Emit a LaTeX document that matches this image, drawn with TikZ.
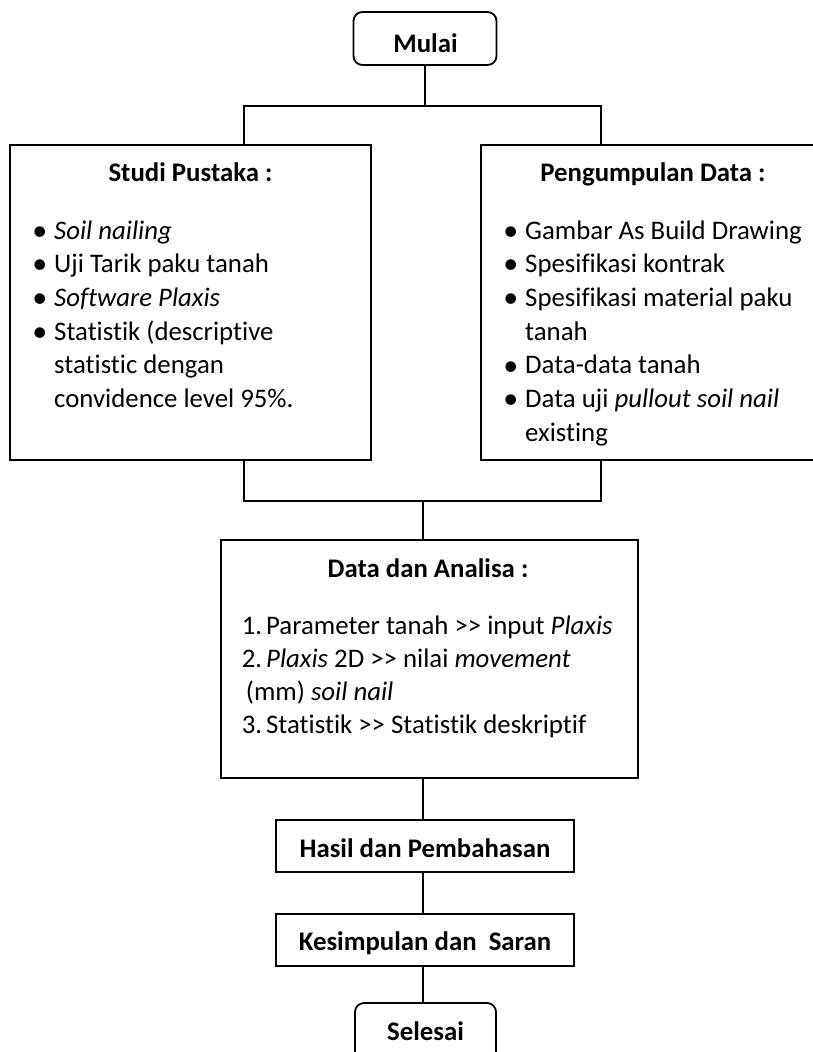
\documentclass[tikz,border=0pt]{standalone}
\usepackage{fontspec}
\setmainfont{Carlito}[Ligatures={TeX,NoCommon}]
\newcommand{\bl}{\makebox[22.8pt][l]{\hspace*{1pt}\raisebox{-1.2pt}{\scalebox{1.12}{\textbullet}}}}
\newcommand{\ind}{\hspace*{22.8pt}}
\newcommand{\num}[1]{\makebox[24.3pt][l]{#1}}
\newcommand{\fs}{\fontsize{26.8}{33.7}\selectfont}
\begin{document}
\begin{tikzpicture}[x=1pt,y=-1pt,
  conn/.style={line width=2pt},
  box/.style={draw,line width=1.1pt,inner sep=0pt},
  rbox/.style={draw,line width=1.8pt,rounded corners=9pt,inner sep=0pt},
  ttl/.style={inner sep=0pt,anchor=base,font=\fs\bfseries},
  lst/.style={inner sep=0pt,anchor=base west}]
\useasboundingbox (0,0) rectangle (813,1052);
\clip (0,0) rectangle (813,1052);
% boxes
\node[rbox,minimum width=143pt,minimum height=53pt] (mulai) at (425,38.5) {};
\node[box,minimum width=361pt,minimum height=315pt] (sp) at (190.5,302.5) {};
\node[box,minimum width=344pt,minimum height=315pt] (pd) at (653,302.5) {};
\node[box,minimum width=417pt,minimum height=238pt] (da) at (429.5,659) {};
\node[box,minimum width=298pt,minimum height=52pt] (hp) at (425,846) {};
\node[box,minimum width=298pt,minimum height=52pt] (ks) at (425,940) {};
\node[rbox,minimum width=141pt,minimum height=65pt] (sl) at (425.5,1035.5) {};
% texts
\node[ttl] (tmulai) at (425.5,52) {Mulai};
\node[ttl] (tsp) at (190.5,181) {Studi Pustaka :};
\node[ttl] (tpd) at (653,181) {Pengumpulan Data :};
\node[ttl] (tda) at (428,577) {Data dan Analisa :};
\node[ttl] (thp) at (425,857) {Hasil dan Pembahasan};
\node[ttl] (tks) at (425,950) {Kesimpulan dan\ \ Saran};
\node[ttl] (tsl) at (425.5,1040) {Selesai};
\node[lst] (lsp) at (31.2,239) {\parbox[t]{330pt}{\fs
  \bl\textit{Soil nailing}\\
  \bl Uji Tarik paku tanah\\
  \bl\textit{Software Plaxis}\\
  \bl Statistik (descriptive\\
  \ind statistic dengan\\
  \ind convidence level 95\%.}};
\node[lst] (lpd) at (502.2,239) {\parbox[t]{310pt}{\fs
  \bl Gambar As Build Drawing\\
  \bl Spesifikasi kontrak\\
  \bl Spesifikasi material paku\\
  \ind tanah\\
  \bl Data-data tanah\\
  \bl Data uji \textit{pullout soil nail}\\
  \ind existing}};
\node[lst] (lda) at (241.7,634) {\parbox[t]{390pt}{\fontsize{26.8}{33.3}\selectfont
  \num{1.}Parameter tanah >{}> input \textit{Plaxis}\\
  \num{2.}\textit{Plaxis} 2D >{}> nilai \textit{movement}\\
  \hspace*{4pt}(mm) \textit{soil nail}\\
  \num{3.}Statistik >{}> Statistik deskriptif}};
% connectors
\coordinate (j1) at (425,106);
\coordinate (a1) at (244,145);
\coordinate (a2) at (601,145);
\coordinate (b1) at (244,460);
\coordinate (b2) at (601,460);
\coordinate (j2) at (423,501);
\draw[conn] (mulai.south) -- (j1);
\draw[conn] (j1) -| (a1);
\draw[conn] (j1) -| (a2);
\draw[conn] (b1) |- (j2);
\draw[conn] (j2) -| (b2);
\draw[conn] (j2) -- (j2 |- da.north);
\draw[conn] (da.south -| j2) -- (hp.north -| j2);
\draw[conn] (hp.south -| j2) -- (ks.north -| j2);
\draw[conn] (ks.south -| j2) -- (sl.north -| j2);
\end{tikzpicture}
\end{document}
